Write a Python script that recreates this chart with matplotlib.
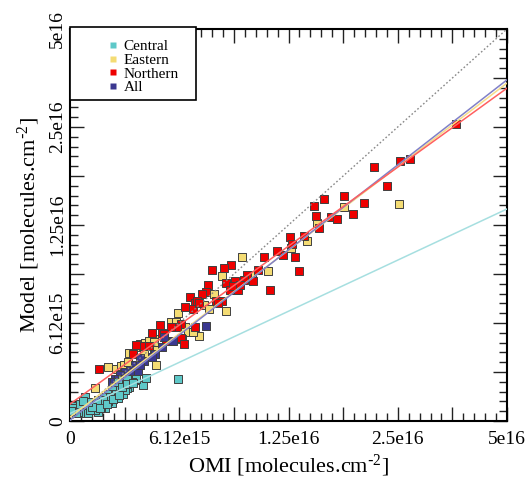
import numpy as np
import matplotlib
matplotlib.use("Agg")
import matplotlib.pyplot as plt
from matplotlib.patches import Rectangle
from matplotlib.lines import Line2D

plt.rcParams['font.family'] = ['Liberation Serif', 'DejaVu Serif']
plt.rcParams['mathtext.default'] = 'regular'

UNIT = 1e15  # values below are in units of 1e15 molecules.cm-2

# ---- data ----
central_x = [6.15, 4.15, 3.8, 3.4, 3.15, 2.95, 2.75, 2.55, 2.4, 2.2, 1.95, 1.6, 1.4, 1.15, 0.9, 0.86,
             0.38, 0.13, 0.63, 1.05, 1.6, 2.0, 2.4, 2.75, 3.05, 3.25, 1.8, 1.45, 2.2, 2.55, 2.85, 3.55,
             3.25, 3.15, 2.65, 2.3, 1.9, 1.55, 0.2, 0.47, 1.15, 1.72, 1.26, 1.03, 2.12, 2.46, 2.80,
             2.98, 3.26, 3.6, 4.35, 0.57, 0.74, 0.34, 0.06]
central_y = [2.65, 2.3, 2.7, 2.2, 2.45, 2.6, 2.5, 2.15, 2.0, 1.75, 1.55, 1.35, 1.1, 0.95, 0.87, 1.5,
             0.8, 0.95, 0.5, 0.5, 0.6, 0.8, 1.15, 1.45, 1.75, 2.1, 0.9, 0.7, 1.25, 1.65, 2.0, 2.5,
             2.65, 2.0, 1.75, 1.55, 1.35, 1.15, 0.83, 0.6, 0.7, 0.83, 0.89, 1.21, 1.08, 1.40, 1.66,
             2.17, 2.36, 2.42, 2.75, 1.08, 1.28, 0.51, 0.64]

eastern_x = [25.2, 17.8, 15.0, 14.1, 12.7, 11.0, 9.3, 9.9, 8.2, 7.8, 7.3, 7.55, 8.4, 7.1, 6.2, 5.8,
             6.05, 6.5, 2.15, 1.43, 2.65, 2.9, 3.1, 3.3, 3.4, 3.8, 4.0, 4.3, 4.5, 4.8, 4.8, 4.8, 4.9,
             4.25, 6.6, 6.8, 6.35, 3.65, 3.8, 3.3]
eastern_y = [14.5, 14.2, 12.7, 11.2, 10.6, 9.0, 10.0, 8.8, 8.7, 7.7, 7.1, 6.9, 6.8, 5.4, 6.7, 6.3,
             6.3, 6.0, 3.45, 2.1, 3.3, 3.5, 3.6, 3.75, 4.35, 4.7, 4.9, 4.95, 5.1, 5.25, 5.05, 4.5, 3.55,
             4.3, 5.65, 5.65, 5.2, 2.85, 2.6, 2.7]

northern_x = [36.1, 25.3, 27.0, 21.5, 23.4, 20.2, 18.8, 17.8, 15.7, 14.7, 14.9, 15.2, 16.4, 17.0,
              12.6, 12.8, 13.8, 13.0, 13.4, 12.1, 11.6, 10.7, 11.1, 10.3, 10.0, 9.6, 9.4, 9.1, 8.9,
              8.7, 8.3, 8.4, 8.6, 8.8, 9.2, 7.7, 7.5, 7.4, 7.2, 7.9, 8.2, 8.0, 6.7, 6.5, 6.9, 7.0,
              6.8, 7.1, 6.3, 6.1, 5.8, 5.15, 6.9, 1.64, 4.7, 5.25, 5.4, 6.3, 6.45, 5.85, 5.5, 3.6,
              4.2, 4.5, 3.8]
northern_y = [25.5, 19.7, 19.9, 18.8, 16.5, 14.6, 13.5, 15.3, 15.0, 14.3, 13.3, 12.2, 13.2, 13.0,
              11.5, 10.9, 11.6, 10.0, 9.0, 10.1, 10.4, 10.0, 7.9, 9.1, 8.4, 8.8, 8.5, 7.9, 8.4,
              9.4, 9.2, 8.3, 7.9, 8.1, 8.2, 9.1, 8.2, 7.8, 7.7, 7.3, 7.3, 7.2, 7.5, 7.0, 7.2, 7.3,
              6.9, 7.2, 6.2, 6.0, 6.0, 6.1, 6.0, 3.34, 5.6, 5.6, 5.55, 5.3, 4.9, 5.1, 5.1, 4.3,
              4.8, 4.8, 4.85]

all_x = [7.4, 5.9, 5.25, 4.85, 4.7, 4.25, 4.0, 3.7, 3.45, 3.15, 2.85, 2.6, 2.4, 3.55, 3.9, 5.35,
         4.0, 2.75, 2.5, 0.46, 0.86, 1.43, 2.0]
all_y = [6.05, 5.1, 4.75, 4.3, 4.1, 3.8, 4.0, 3.6, 3.25, 3.1, 2.95, 2.7, 2.5, 3.1, 3.2, 5.35,
         3.6, 2.7, 2.5, 0.5, 0.77, 1.08, 1.47]

# regression lines (endpoints at x = 0 and x = 5e16)
fit_x = [0.0, 50.0]
fit_central_y = [0.48, 14.0]
fit_eastern_y = [0.25, 34.1]
fit_northern_y = [1.08, 32.9]
fit_all_y = [0.06, 34.9]
one_to_one = [0.0, 50.0]

series_names = ['Central', 'Eastern', 'Northern', 'All']
tick_values = [0, 6.25, 12.5, 25.0, 50.0]
tick_labels = ['0', '6.12e15', '1.25e16', '2.5e16', '5e16']

colors = {'Central': '#5ec8c8', 'Eastern': '#f4dc74', 'Northern': '#ee0000', 'All': '#3b3890'}
line_colors = {'Central': '#a6dfe0', 'Eastern': '#f6dd8a', 'Northern': '#ff6060', 'All': '#8080c8'}

# ---- scale: linear up to L, base-2 log above ----
L = 6.25e15


def fwd(v):
    v = np.asarray(v, dtype=float)
    return np.where(v <= L, v / L, 1.0 + np.log2(np.maximum(v, L) / L))


def inv(u):
    u = np.asarray(u, dtype=float)
    return np.where(u <= 1, u * L, L * 2.0 ** (np.maximum(u, 1.0) - 1.0))


fig = plt.figure(figsize=(5.30, 4.79), dpi=100)
ax = fig.add_axes([70 / 530, 1 - 421 / 479, 437 / 530, 392 / 479])
ax.set_xscale('function', functions=(fwd, inv))
ax.set_yscale('function', functions=(fwd, inv))

sc = lambda a: np.asarray(a, dtype=float) * UNIT
mk = dict(marker='s', s=40, edgecolors='#404040', linewidths=0.7, zorder=3)
ax.scatter(sc(eastern_x), sc(eastern_y), c=colors['Eastern'], **mk)
ax.scatter(sc(northern_x), sc(northern_y), c=colors['Northern'], **mk)
ax.scatter(sc(all_x), sc(all_y), c=colors['All'], **mk)
ax.scatter(sc(central_x), sc(central_y), c=colors['Central'], **mk)

ax.plot(sc(one_to_one), sc(one_to_one), color='#888888', ls=(0, (1.2, 1.6)), lw=1.0, zorder=4)
ax.plot(sc(fit_x), sc(fit_central_y), color=line_colors['Central'], lw=1.1, zorder=4)
ax.plot(sc(fit_x), sc(fit_eastern_y), color=line_colors['Eastern'], lw=1.1, zorder=4)
ax.plot(sc(fit_x), sc(fit_all_y), color=line_colors['All'], lw=1.1, zorder=4)
ax.plot(sc(fit_x), sc(fit_northern_y), color=line_colors['Northern'], lw=1.1, zorder=4)

ax.set_xlim(0, 5e16)
ax.set_ylim(0, 5e16)

major_u = np.arange(0, 4.01, 0.5)
minor_u = np.arange(0, 4.001, 0.1)
label_pos = fwd(sc(tick_values))
major_labels = []
for u in major_u:
    idx = np.where(np.isclose(label_pos, u, atol=0.05))[0]
    major_labels.append(tick_labels[idx[0]] if len(idx) else '')
for axis in (ax.xaxis, ax.yaxis):
    axis.set_ticks(inv(major_u))
    axis.set_ticklabels(major_labels)
    axis.set_ticks(inv(minor_u), minor=True)

ax.tick_params(which='both', direction='in', top=True, right=True, width=1.0, color='#222222')
ax.tick_params(which='major', length=10, labelsize=14)
ax.tick_params(axis='x', which='major', pad=7)
ax.tick_params(axis='y', which='major', pad=3)
ax.tick_params(which='minor', length=5.5)
for lab in ax.get_yticklabels():
    lab.set_rotation(90)
    lab.set_va('center')
for sp in ax.spines.values():
    sp.set_linewidth(1.5)

ax.set_xlabel('OMI [molecules.cm$^{\\text{-}2}$]', fontsize=16, labelpad=4)
ax.set_ylabel('Model [molecules.cm$^{\\text{-}2}$]', fontsize=16, labelpad=5)

# legend box in the top-left corner
box = Rectangle((0, 0.819), 0.288, 0.186, transform=ax.transAxes, facecolor='white',
                edgecolor='black', lw=1.2, zorder=5, clip_on=False)
ax.add_patch(box)
handles = [Line2D([], [], marker='s', ls='none', markersize=5, markerfacecolor=colors[n],
                  markeredgecolor='none') for n in series_names]
leg = ax.legend(handles, series_names, loc='upper left', bbox_to_anchor=(0.065, 0.998),
                frameon=False, fontsize=11, handlelength=0.6, handletextpad=0.4,
                labelspacing=0.0, borderpad=0.15)
leg.set_zorder(6)

fig.savefig('out.png', dpi=100)
